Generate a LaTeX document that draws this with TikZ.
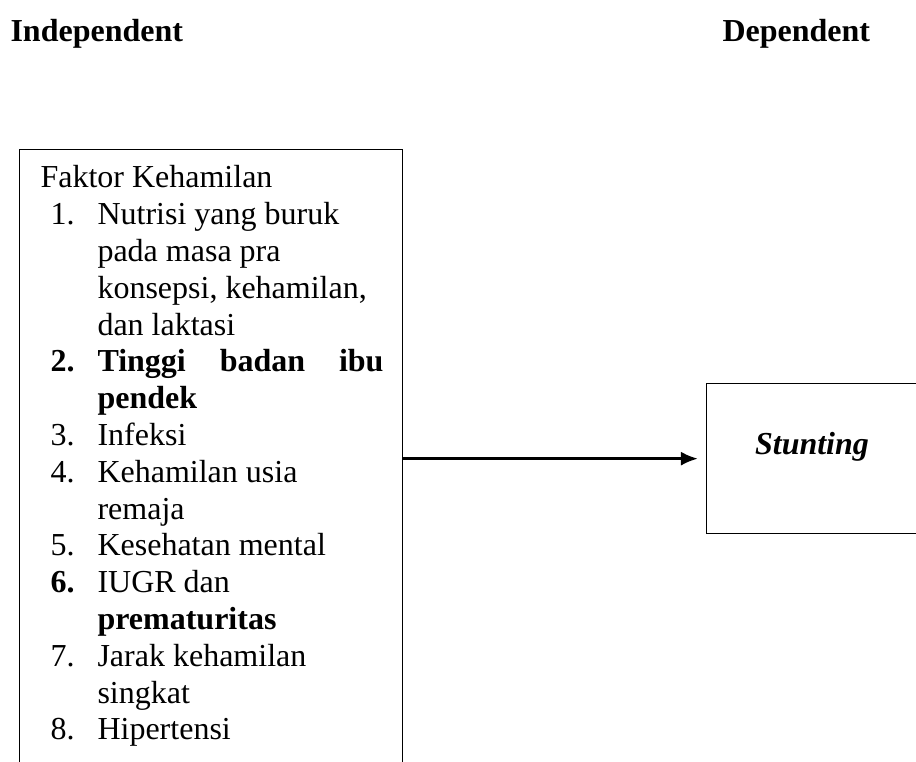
\documentclass[tikz,border=0pt]{standalone}
\usepackage{fontspec}
\setmainfont{Liberation Serif}
\usetikzlibrary{arrows.meta}
\newcommand{\twelve}{\fontsize{12pt}{13.8pt}\selectfont}

\begin{document}
\begin{tikzpicture}[x=0.375pt,y=-0.375pt,font=\twelve,
  box/.style={draw,line width=0.5pt,inner sep=0,anchor=north west},
  txt/.style={anchor=base west,inner sep=0}]
\useasboundingbox (0,0) rectangle (916,762);

\node[txt,font=\twelve\bfseries] (h1) at (10,42) {Independent};
\node[txt,font=\twelve\bfseries] (h2) at (722,42) {Dependent};

\node[box,minimum width=143.6pt,minimum height=244pt] (1) at (19,149) {};
\node[box,minimum width=80.6pt,minimum height=56.25pt] (2) at (706,383) {};

\node[txt] (t0) at (40,188) {Faktor Kehamilan};
\foreach \k/\num in {1/1., 5/\textbf{2.}, 7/3., 8/4., 10/5., 11/\textbf{6.}, 13/7., 15/8.}
  \node[txt] (n\k) at (50,{188+36.8*\k}) {\num};
\foreach \k/\txt in {1/Nutrisi yang buruk, 2/pada masa pra, 3/{konsepsi, kehamilan,},
    4/dan laktasi, 5/{\makebox[107.25pt][s]{\bfseries Tinggi badan ibu}},
    6/\textbf{pendek}, 7/Infeksi, 8/Kehamilan usia, 9/remaja, 10/Kesehatan mental,
    11/IUGR dan, 12/\textbf{prematuritas}, 13/Jarak kehamilan, 14/singkat, 15/Hipertensi}
  \node[txt] (t\k) at (97,{188+36.8*\k}) {\txt};

\node[anchor=base,inner sep=0,font=\twelve\bfseries\itshape] (s) at (812,455) {Stunting};

\path[draw,line width=1.1pt,-{Latex[length=6.4pt,width=5.3pt]},shorten >=3pt] (2.west -| 1.east) -- (2.west);
\end{tikzpicture}
\end{document}
